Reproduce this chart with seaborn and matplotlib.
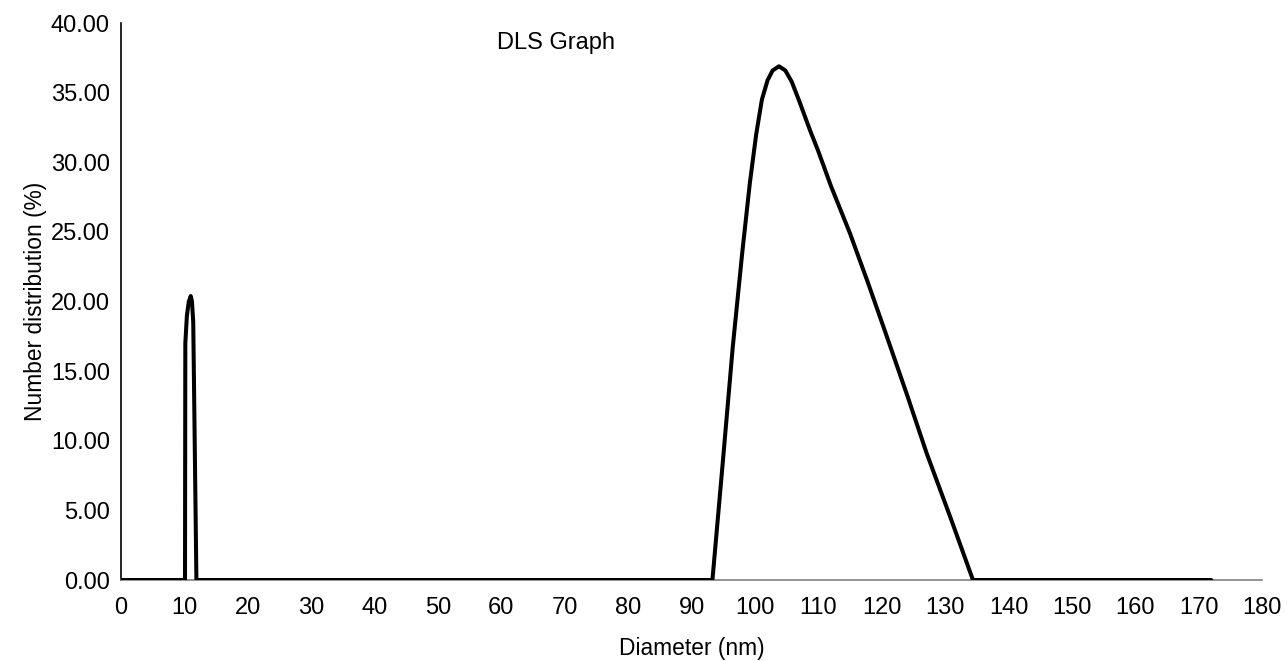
import pandas as pd
import numpy as np
import matplotlib
matplotlib.use("Agg")
import matplotlib.pyplot as plt
import seaborn as sns
from matplotlib.ticker import FormatStrFormatter, MultipleLocator

# valores (diametro em nm, distribuicao em %)
diameter = [0, 10.1, 10.15, 10.4, 10.7, 11.0, 11.2, 11.4, 11.9,
            93.3, 95.0, 96.5, 98.0, 99.2, 100.2, 101.1, 102.0, 102.8, 103.8,
            104.8, 105.8, 107.0, 108.7, 110.0, 112.0, 115.0, 117.8, 120.5,
            124.0, 127.1, 131.0, 134.4, 172.0]
number_dist = [0, 0, 17.0, 19.0, 20.0, 20.4, 20.0, 18.5, 0,
               0, 8.8, 16.7, 23.5, 28.5, 32.0, 34.5, 35.9, 36.6, 36.9,
               36.6, 35.8, 34.4, 32.3, 30.8, 28.3, 24.9, 21.4, 17.9,
               13.3, 9.1, 4.3, 0, 0]

df = pd.DataFrame({'diameter': diameter, 'dist': number_dist})

sns.set_theme(style='white')
plt.rcParams['font.family'] = ['Liberation Sans', 'DejaVu Sans']

fig = plt.figure(figsize=(12.87, 6.61), dpi=100)
ax = fig.add_axes([0.094, 0.1225, 0.8866, 0.8425])

sns.lineplot(data=df, x='diameter', y='dist', sort=False, color='black',
             linewidth=2.9, ax=ax, zorder=3)

ax.set_xlim(0, 180)
ax.set_ylim(0, 40)
ax.xaxis.set_major_locator(MultipleLocator(10))
ax.yaxis.set_major_locator(MultipleLocator(5))
ax.yaxis.set_major_formatter(FormatStrFormatter('%.2f'))
ax.tick_params(axis='x', length=0, pad=12, labelsize=17, colors='black')
ax.tick_params(axis='y', length=0, pad=8, labelsize=17, colors='black')

for s in ['top', 'right']:
    ax.spines[s].set_visible(False)
ax.spines['left'].set_color('black')
ax.spines['left'].set_linewidth(1.2)
ax.spines['bottom'].set_color('#808080')
ax.spines['bottom'].set_linewidth(1.2)

ax.set_xlabel('Diameter (nm)', fontsize=16.4, color='black')
ax.set_ylabel('Number distribution (%)', fontsize=16.4, color='black')
ax.xaxis.set_label_coords(0.5, -0.102)
ax.yaxis.set_label_coords(-0.065, 0.5)

ax.text(0.381, 0.964, 'DLS Graph', transform=ax.transAxes, ha='center',
        va='center', fontsize=17, color='black')

plt.savefig('out.png', dpi=100)
